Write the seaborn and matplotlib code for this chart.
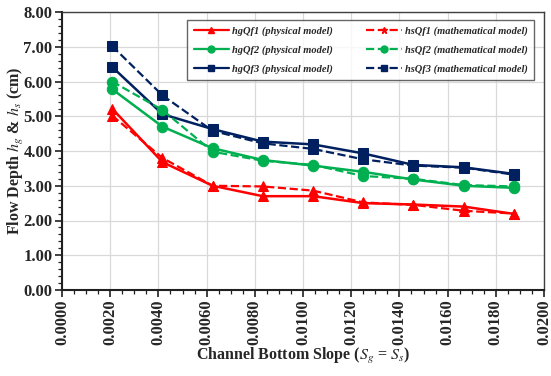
import numpy as np
import pandas as pd
import matplotlib
matplotlib.use("Agg")
import matplotlib.pyplot as plt
import seaborn as sns
from matplotlib.lines import Line2D
from matplotlib.ticker import MultipleLocator, FormatStrFormatter

slope = [0.00208, 0.00417, 0.00625, 0.00833, 0.01042, 0.0125, 0.01458, 0.01667, 0.01875]
hgQf1 = [5.22, 3.68, 3.00, 2.70, 2.70, 2.50, 2.46, 2.40, 2.19]
hsQf1 = [5.02, 3.80, 3.00, 2.98, 2.86, 2.52, 2.45, 2.28, 2.20]
hgQf2 = [5.78, 4.70, 4.08, 3.74, 3.58, 3.40, 3.18, 3.00, 2.94]
hsQf2 = [6.00, 5.18, 3.98, 3.72, 3.60, 3.28, 3.20, 3.02, 2.98]
hgQf3 = [6.42, 5.06, 4.63, 4.27, 4.19, 3.93, 3.60, 3.53, 3.34]
hsQf3 = [7.02, 5.60, 4.58, 4.22, 4.06, 3.76, 3.58, 3.52, 3.32]

series = [
    ("hgQf1 (physical model)", hgQf1, "#FF0000", "-", "^"),
    ("hgQf2 (physical model)", hgQf2, "#00B050", "-", "o"),
    ("hgQf3 (physical model)", hgQf3, "#002060", "-", "s"),
    ("hsQf1 (mathematical model)", hsQf1, "#FF0000", "--", "^"),
    ("hsQf2 (mathematical model)", hsQf2, "#00B050", "--", "o"),
    ("hsQf3 (mathematical model)", hsQf3, "#002060", "--", "s"),
]

sns.set_theme(style="whitegrid")
plt.rcParams['font.family'] = ['Liberation Serif', 'DejaVu Serif']
plt.rcParams['mathtext.fontset'] = 'stix'

fig = plt.figure(figsize=(5.51, 3.76), dpi=100)
ax = fig.add_axes([62/551, 1-290/376, (544-62)/551, (290-12)/376])

for name, vals, col, ls, mk in series:
    df = pd.DataFrame({"S": slope, "h": vals})
    lw = 1.8 if ls == "-" else 1.6
    sns.lineplot(data=df, x="S", y="h", ax=ax, color=col, linestyle=ls,
                 linewidth=lw, marker=mk, markersize=7.5, markeredgecolor=col,
                 markerfacecolor=col, legend=False)

ax.set_xlim(0, 0.02)
ax.set_ylim(0, 8)
ax.xaxis.set_major_locator(MultipleLocator(0.002))
ax.xaxis.set_minor_locator(MultipleLocator(0.0005))
ax.yaxis.set_major_locator(MultipleLocator(1))
ax.yaxis.set_minor_locator(MultipleLocator(0.2))
ax.xaxis.set_major_formatter(FormatStrFormatter('%.4f'))
ax.yaxis.set_major_formatter(FormatStrFormatter('%.2f'))
ax.grid(True, which='major', color='#D9D9D9', linewidth=0.9)
ax.grid(False, which='minor')
ax.set_facecolor('white')
for s in ax.spines.values():
    s.set_color('#404040')
    s.set_linewidth(1.0)
ax.spines['left'].set_color('#202020')
ax.spines['bottom'].set_color('#202020')
ax.spines['left'].set_linewidth(1.5)
ax.spines['bottom'].set_linewidth(1.5)

ax.tick_params(axis='both', which='major', direction='out', length=5, width=1.2,
               color='#202020', labelsize=12, pad=2,
               bottom=True, left=True)
ax.tick_params(axis='both', which='minor', direction='out', length=3, width=0.9,
               color='#202020', bottom=True, left=True)
for lab in ax.get_xticklabels():
    lab.set_rotation(90)
    lab.set_fontweight('bold')
for lab in ax.get_yticklabels():
    lab.set_fontweight('bold')

ax.set_xlabel(r"Channel Bottom Slope ($\mathbf{\mathit{S_g}}$ = $\mathbf{\mathit{S_s}}$)",
              fontsize=11.5, fontweight='bold')
ax.xaxis.set_label_coords(0.5, -0.2)
ax.set_ylabel(r"Flow Depth $\mathbf{\mathit{h_g}}$ & $\mathbf{\mathit{h_s}}$ (cm)",
              fontsize=11.5, fontweight='bold')
ax.yaxis.set_label_coords(-0.075, 0.5)

handles = []
for name, vals, col, ls, mk in series:
    m = mk if ls == "-" else {"^": "*", "o": "o", "s": "s"}[mk]
    handles.append(Line2D([0], [0], color=col, linestyle=ls, linewidth=1.6,
                          marker=m, markersize=5, label=name))
leg = ax.legend(handles=handles, ncol=2, loc='upper right',
                bbox_to_anchor=(0.99, 0.99), frameon=True, fancybox=False,
                prop={'size': 7.5, 'style': 'italic', 'weight': 'bold'},
                handlelength=3.4, columnspacing=3.2, labelspacing=0.9,
                borderpad=0.6, handletextpad=0.3)
leg.get_frame().set_edgecolor('#404040')
leg.get_frame().set_linewidth(1.0)

fig.savefig("out.png", dpi=100, facecolor='white')
